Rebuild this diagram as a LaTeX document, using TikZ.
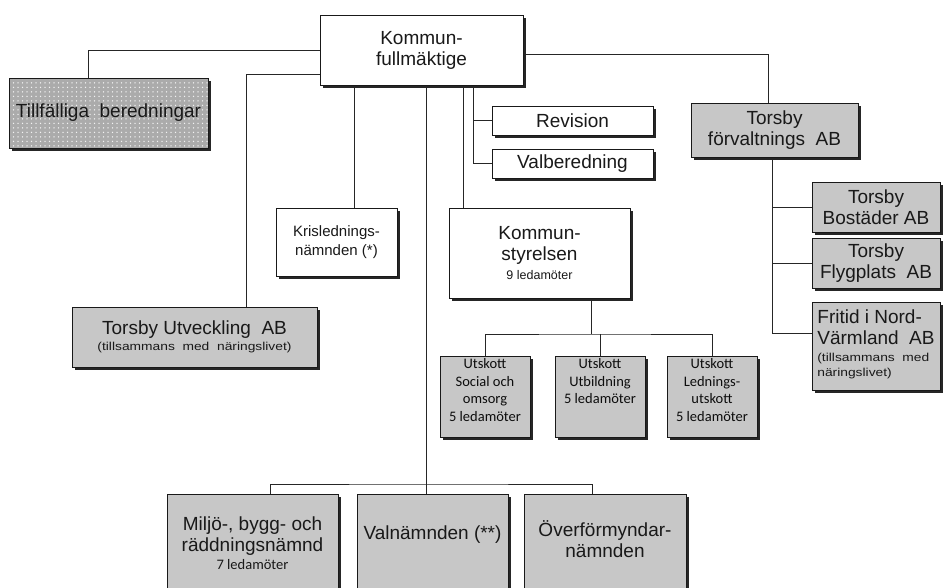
\documentclass[tikz,border=0pt]{standalone}
\usepackage{fontspec}
\setmainfont{Liberation Sans}
\newfontfamily\calfont{Carlito}
\usetikzlibrary{shadows,patterns.meta}
\definecolor{boxgray}{gray}{0.78}
\definecolor{txt}{gray}{0.1}
\newcommand\smallwide[1]{{\fontsize{11.5}{13}\selectfont\scalebox{1.2}[1]{#1}}}
\begin{document}
\begin{tikzpicture}[x=1pt,y=-1pt,
  line width=0.8pt,
  basebox/.style={draw=black!90, line width=1pt, inner sep=0pt, align=center, text=txt,
    font=\fontsize{19}{21}\selectfont,
    drop shadow={shadow xshift=2.6pt, shadow yshift=-2.6pt, fill=black!85, opacity=1}},
  wbox/.style={basebox, fill=white},
  gbox/.style={basebox, fill=boxgray},
  conn/.style={draw=black!85, line width=0.8pt},
  mtxt/.style={inner sep=0pt, text=txt, font=\fontsize{19}{21}\selectfont},
  utxt/.style={anchor=north, align=center, inner sep=0pt, text=black!95, font=\calfont\fontsize{14.5}{17.5}\selectfont}
]
\useasboundingbox (0,0) rectangle (943,587);
\fill[white] (0,0) rectangle (943,587);

% top
\node[wbox, minimum width=203pt, minimum height=70pt] (KF) at (421.5,50) {Kommun-\\fullmäktige};
\node[basebox, minimum width=199pt, minimum height=70pt,
  preaction={fill=black!33},
  pattern={Dots[distance=4.5pt, radius=0.75pt]}, pattern color=white!90!gray] (Till) at (108.5,113) {};
\node[mtxt, text=black!90] at (Till) {Tillfälliga\ \ beredningar};

\node[wbox, minimum width=161pt, minimum height=29pt] (Rev) at (572.5,120.5) {Revision};
\node[wbox, minimum width=161pt, minimum height=29pt] (Valb) at (572.5,163.5) {Valberedning};
\node[gbox, minimum width=167pt, minimum height=54pt] (TF) at (774.5,130) {Torsby\\förvaltnings\ \ AB};

% right companies
\node[gbox, minimum width=128pt, minimum height=50pt] (Bost) at (876,207) {Torsby\\Bostäder AB};
\node[gbox, minimum width=128pt, minimum height=50pt] (Flyg) at (876,263) {Torsby\\Flygplats\ \ AB};
\node[gbox, minimum width=128pt, minimum height=88pt] (Frit) at (876,346) {};
\node[mtxt, align=left] at (876,344)
  {Fritid i Nord-\\Värmland\ \ AB\\[-4pt]\smallwide{(tillsammans\ \ med}\\[-6pt]\smallwide{näringslivet)}};

% middle
\node[wbox, minimum width=121pt, minimum height=68pt, font=\fontsize{15}{19}\selectfont] (Kris) at (336.5,242) {Krislednings-\\nämnden (*)};
\node[wbox, minimum width=181pt, minimum height=90pt] (KS) at (539.5,253) {Kommun-\\styrelsen\\[-2pt]{\fontsize{12.5}{14}\selectfont 9 ledamöter}};
\node[gbox, minimum width=245pt, minimum height=60pt] (TU) at (194.5,337) {Torsby Utveckling\ \ AB\\[-5pt]\smallwide{(tillsammans\ \ med\ \ näringslivet)}};

% utskott
\node[gbox, minimum width=90pt, minimum height=81pt] (U1) at (485,396.5) {};
\node[gbox, minimum width=90pt, minimum height=81pt] (U2) at (600,396.5) {};
\node[gbox, minimum width=90pt, minimum height=81pt] (U3) at (712,396.5) {};
\node[utxt] at ([yshift=-3pt]U1.north) {Utskott\\Social och\\omsorg\\5 ledamöter};
\node[utxt] at ([yshift=-3pt]U2.north) {Utskott\\Utbildning\\5 ledamöter};
\node[utxt] at ([yshift=-3pt]U3.north) {Utskott\\Lednings-\\utskott\\5 ledamöter};

% bottom
\node[gbox, minimum width=171pt, minimum height=96pt] (M) at (252.5,542) {};
\node[gbox, minimum width=151pt, minimum height=96pt] (V) at (432.5,542) {};
\node[gbox, minimum width=162pt, minimum height=96pt] (Oe) at (605,542) {};
\node[mtxt, align=center] at (252.5,543)
  {Miljö-, bygg- och\\räddningsnämnd\\[-3pt]{\calfont\fontsize{14.5}{16}\selectfont 7 ledamöter}};
\node[mtxt] at (432.5,535) {Valnämnden (**)};
\node[mtxt, align=center] at (605,539) {Överförmyndar-\\nämnden};

% junction points
\coordinate (J) at (426,484);
\coordinate (K) at (591,334);
\coordinate (tfb) at ([xshift=-2.5pt]TF.south);

% connectors
\draw[conn] (KF.west) -| ([xshift=-20.5pt]Till.north);
\draw[conn] ([yshift=-24pt]KF.west) -| ([xshift=51.5pt]TU.north);
\draw[conn] ([xshift=17.5pt]Kris.north) -- ([xshift=17.5pt]Kris.north |- KF.south);
\draw[conn] (J |- KF.south) -- (J);
\draw[conn] ([xshift=-76.5pt]KS.north) -- ([xshift=-76.5pt]KS.north |- KF.south);
\draw[conn] (Rev.west) -| ([xshift=-18pt]Rev.west |- KF.south);
\draw[conn] (Valb.west) -| ([xshift=-18pt]Rev.west);
\draw[conn] ([yshift=-4pt]KF.east) -| ([xshift=-6.5pt]TF.north);
\draw[conn] (tfb) |- ([yshift=13pt]Frit.west);
\draw[conn] (Bost.west) -- (Bost.west -| tfb);
\draw[conn] (Flyg.west) -- (Flyg.west -| tfb);
\draw[conn] (K |- KS.south) -- (K);
\draw[conn] (U1.north) |- (K) -| (U3.north);
\draw[conn] (U2.north) -- (U2.north |- K);
\draw[conn] ([xshift=17.5pt]M.north) |- (J) -| ([xshift=-13pt]Oe.north);
\draw[conn] (J) -- (J |- V.north);
\end{tikzpicture}
\end{document}
